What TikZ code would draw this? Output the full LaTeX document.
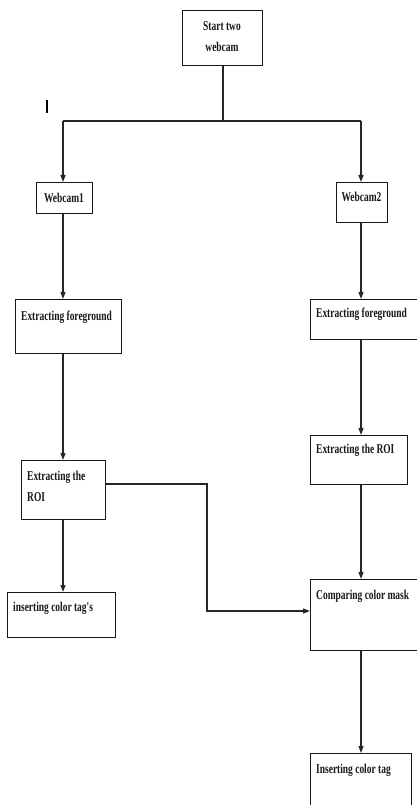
\documentclass[tikz,border=0pt]{standalone}
\usepackage{fontspec}
\newfontfamily\diafont[FakeStretch=0.70]{Liberation Serif}
\usetikzlibrary{arrows.meta}
\begin{document}
\begin{tikzpicture}[x=1pt,y=-1pt,
  box/.style={draw=black!90,line width=1.3pt,anchor=north west,inner sep=0pt},
  txt/.style={font=\diafont\bfseries\fontsize{13.5}{21}\selectfont,inner sep=0pt,text=black!90},
  conn/.style={draw=black!85,line width=1.2pt},
  arr/.style={conn,-{Triangle[length=7pt,width=5pt]}}]
\useasboundingbox (0,0) rectangle (417,805);
\clip (0,0) rectangle (417,805);
\fill[white] (0,0) rectangle (417,805);
% boxes
\node[box,minimum width=80,minimum height=55] (start) at (182,10) {};
\node[box,minimum width=56,minimum height=31] (web1) at (36,182) {};
\node[box,minimum width=51,minimum height=40] (web2) at (336,182) {};
\node[box,minimum width=106,minimum height=54] (ef1) at (15,299) {};
\node[box,minimum width=112,minimum height=40] (ef2) at (310,299) {};
\node[box,minimum width=84,minimum height=59] (roi1) at (21,460) {};
\node[box,minimum width=97,minimum height=49] (roi2) at (310,435) {};
\node[box,minimum width=108,minimum height=45] (tag1) at (7,592) {};
\node[box,minimum width=112,minimum height=71] (cmp) at (310,579) {};
\node[box,minimum width=101,minimum height=60] (tag2) at (310,753) {};
% texts
\node[txt,align=center] (startt) at (222,36.5) {Start two\\webcam};
\node[txt] (web1t) at (64,198) {Webcam1};
\node[txt] (web2t) at (361.5,197) {Webcam2};
\node[txt,anchor=west] (ef1t) at (21,317) {Extracting foreground};
\node[txt,anchor=west] (ef2t) at (316,314) {Extracting foreground};
\node[txt,anchor=west,align=left] (roi1t) at (27,486) {Extracting the\\ROI};
\node[txt,anchor=west] (roi2t) at (316,450) {Extracting the ROI};
\node[txt,anchor=west] (tag1t) at (13,608) {inserting color tag's};
\node[txt,anchor=west] (cmpt) at (316,596) {Comparing color mask};
\node[txt,anchor=west] (tag2t) at (316,770) {Inserting color tag};
% stray mark
\coordinate (m1) at (47,100);
\coordinate (m2) at (47,113);
\draw[line width=1.6pt] (m1) -- (m2);
% connectors
\coordinate (split) at (223,121);
\coordinate (sl) at (63,121);
\coordinate (sr) at (361,121);
\draw[conn] (start.south -| split) -- (split);
\draw[conn] (sl) -- (sr);
\draw[arr] (sl) -- (sl |- web1.north);
\draw[arr] (sr) -- (sr |- web2.north);
\draw[arr] (sl |- web1.south) -- (sl |- ef1.north);
\draw[arr] (sl |- ef1.south) -- (sl |- roi1.north);
\draw[arr] (sl |- roi1.south) -- (sl |- tag1.north);
\draw[arr] (sr |- web2.south) -- (sr |- ef2.north);
\draw[arr] (sr |- ef2.south) -- (sr |- roi2.north);
\draw[arr] (sr |- roi2.south) -- (sr |- cmp.north);
\draw[arr] (sr |- cmp.south) -- (sr |- tag2.north);
\coordinate (b1) at (207,484);
\coordinate (b2) at (207,611);
\draw[arr] (roi1.east |- b1) -- (b1) -- (b2) -- (cmp.west |- b2);
\end{tikzpicture}
\end{document}
